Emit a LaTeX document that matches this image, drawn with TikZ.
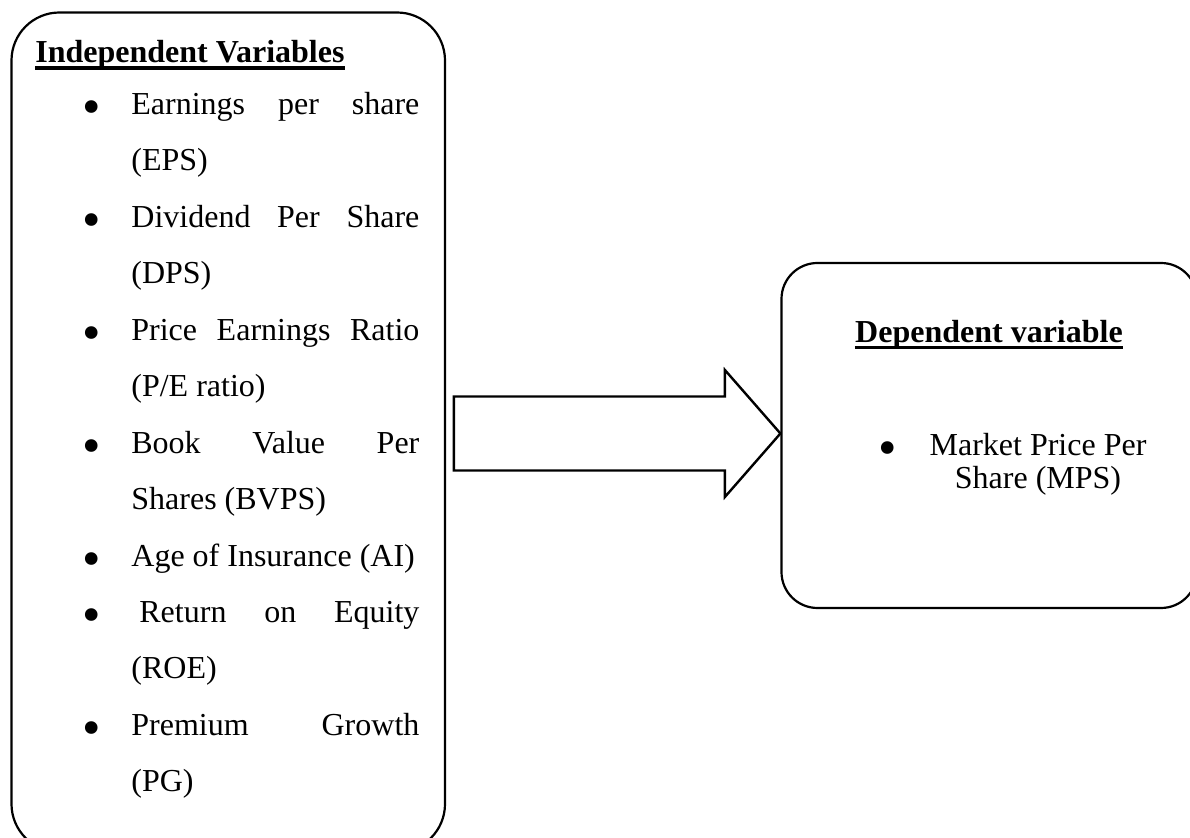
\documentclass[tikz,border=0pt]{standalone}
\usepackage{fontspec}
\usepackage{graphicx}
\setmainfont{Liberation Serif}
\newcommand{\varsize}{\fontsize{16pt}{19pt}\selectfont}
\newcommand{\itembul}[1][15.4pt]{\llap{\raisebox{-5.2pt}{\scalebox{1.65}{\textbullet}}\hspace{#1}}}
\newcommand{\fillline}[1]{\makebox[144pt][s]{#1}}
\tikzset{
  var box/.style={draw=black, line width=1.1pt, inner sep=0pt},
  var head/.style={font=\varsize\bfseries, inner sep=0pt},
  var item/.style={inner sep=0pt, anchor=base west},
  var text/.style={inner sep=0pt, anchor=base},
  head rule/.style={draw=black, line width=1.8pt},
  block arrow/.style={draw=black, line width=1.2pt, line join=miter},
}

\begin{document}
\begin{tikzpicture}[x=0.5pt, y=-0.5pt, font=\varsize]
  \useasboundingbox (0,0) rectangle (1190,838);

  % the two boxes
  \node[var box, rounded corners=24pt, minimum width=216.75pt, minimum height=419.75pt] (indep) at (228.25,432.25) {};
  \node[var box, rounded corners=18pt, minimum width=207.75pt, minimum height=172.5pt] (dep) at (989.25,435.5) {};

  % left box: heading and list
  \node[var head, anchor=base west] (indephead) at (35,63) {Independent Variables};
  \draw[head rule] ([yshift=-2.6pt]indephead.base west) -- ([yshift=-2.6pt]indephead.base east);
  \foreach \txt [count=\i from 0] in {
    {\itembul\fillline{Earnings per share}},
    {(EPS)},
    {\itembul\fillline{Dividend Per Share}},
    {(DPS)},
    {\itembul\fillline{Price Earnings Ratio}},
    {(P/E ratio)},
    {\itembul\fillline{Book Value Per}},
    {Shares (BVPS)},
    {\itembul Age of Insurance (AI)},
    {\itembul\fillline{\hspace*{4pt}Return on Equity}},
    {(ROE)},
    {\itembul\fillline{Premium Growth}},
    {(PG)}} {
    \node[var item] (line\i) at (131,114.5+56.45*\i) {\txt};
  }

  % right box: heading and item
  \node[var head, anchor=base] (dephead) at (989,342.5) {Dependent variable};
  \draw[head rule] ([yshift=-2.6pt]dephead.base west) -- ([yshift=-2.6pt]dephead.base east);
  \node[var text] (mps1) at (1038,455.5) {\itembul[16.4pt]Market Price Per};
  \node[var text] (mps2) at (1038,488.5) {Share (MPS)};

  % block arrow ending on the right box
  \draw[block arrow] ([yshift=1pt]dep.west) -- ++(-55.5,-63.5) -- ++(0,26.5) -- ++(-271,0)
    -- ++(0,74) -- ++(271,0) -- ++(0,26.5) -- cycle;
\end{tikzpicture}
\end{document}
